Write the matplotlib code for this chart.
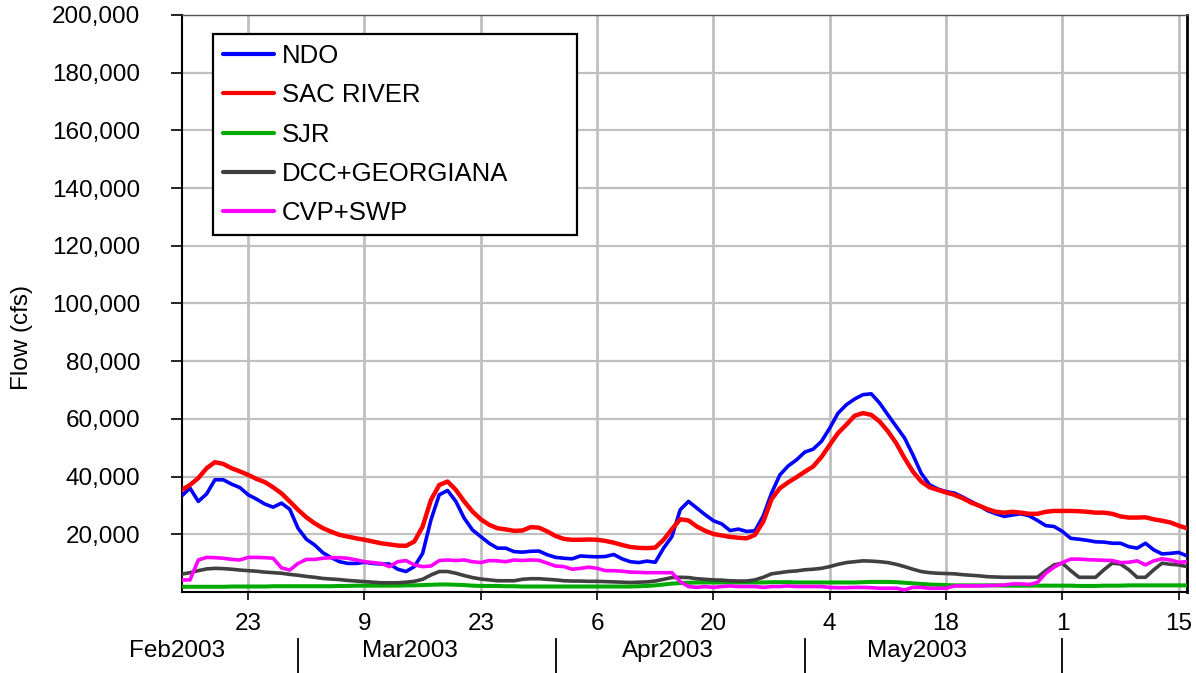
import matplotlib
matplotlib.use("Agg")
import matplotlib.pyplot as plt
import matplotlib.dates as mdates
import matplotlib.transforms as mtransforms
import numpy as np
import pandas as pd

plt.rcParams['font.family'] = ['Liberation Sans', 'DejaVu Sans']

# ---------------- data (thousand cfs, daily from 15 Feb 2003) ----------------
start_date = '2003-02-15'
n_days = 122

ndo = [33.3, 36.0, 31.4, 34.0, 38.9, 38.9, 37.4, 36.2, 33.7, 32.2,
       30.5, 29.4, 30.8, 28.7, 22.1, 18.3, 16.3, 13.6, 11.9, 10.5,
       9.9, 9.9, 10.3, 9.9, 9.7, 9.7, 7.9, 7.1, 8.8, 13.4,
       25.0, 33.7, 35.2, 31.4, 25.6, 21.5, 19.2, 16.9, 15.2, 15.2,
       14.0, 13.8, 14.1, 14.2, 12.9, 12.0, 11.7, 11.5, 12.5, 12.3,
       12.2, 12.3, 13.0, 11.5, 10.5, 10.2, 10.7, 10.3, 15.2, 19.2,
       28.5, 31.4, 29.1, 26.8, 24.7, 23.6, 21.3, 21.8, 21.0, 21.2,
       26.4, 34.3, 40.6, 43.7, 45.8, 48.5, 49.5, 52.2, 56.8, 62.0,
       64.9, 66.9, 68.4, 68.7, 65.5, 61.4, 57.4, 53.4, 47.6, 41.2,
       37.2, 35.7, 34.8, 34.3, 32.9, 31.4, 29.9, 28.2, 27.1, 26.2,
       26.7, 27.1, 26.4, 24.8, 23.0, 22.7, 21.0, 18.6, 18.3, 17.9,
       17.4, 17.3, 16.9, 16.9, 15.7, 15.2, 16.9, 14.6, 13.2, 13.4,
       13.7, 12.5]

sac_river = [35.4, 37.1, 39.5, 42.9, 45.0, 44.4, 42.9, 41.8, 40.6, 39.2,
             38.1, 36.3, 34.2, 31.4, 28.5, 25.9, 23.8, 22.1, 20.9, 19.8,
             19.2, 18.6, 18.1, 17.5, 16.9, 16.5, 16.1, 16.0, 17.5, 22.7,
             31.9, 37.1, 38.3, 35.4, 31.4, 27.9, 25.2, 23.3, 22.1, 21.7,
             21.2, 21.3, 22.5, 22.3, 21.0, 19.4, 18.4, 18.1, 18.1, 18.2,
             18.1, 17.7, 17.1, 16.3, 15.6, 15.3, 15.2, 15.4, 18.1, 21.8,
             25.2, 24.8, 22.7, 21.2, 20.1, 19.6, 19.1, 18.8, 18.6, 19.8,
             24.4, 32.2, 36.0, 38.0, 39.8, 41.7, 43.5, 46.8, 51.0, 55.1,
             58.0, 61.1, 62.0, 61.4, 59.1, 55.7, 51.6, 46.4, 41.8, 38.3,
             36.3, 35.4, 34.5, 33.7, 32.5, 31.0, 29.9, 28.7, 27.8, 27.5,
             27.8, 27.5, 27.1, 27.1, 27.8, 28.1, 28.1, 28.1, 28.0, 27.8,
             27.5, 27.5, 27.1, 26.2, 25.8, 25.8, 25.9, 25.2, 24.7, 24.1,
             23.0, 22.1]

sjr = [1.8, 1.8, 1.8, 1.8, 1.8, 1.8, 1.9, 1.9, 1.9, 1.9,
       1.9, 2.0, 2.0, 2.0, 2.0, 2.0, 2.0, 2.0, 2.0, 2.1,
       2.1, 2.2, 2.2, 2.2, 2.2, 2.2, 2.2, 2.3, 2.3, 2.4,
       2.5, 2.6, 2.6, 2.5, 2.4, 2.2, 2.1, 2.1, 2.1, 2.0,
       2.0, 1.9, 1.9, 1.9, 1.9, 1.9, 1.9, 1.9, 1.9, 1.9,
       1.9, 1.9, 1.9, 1.9, 1.9, 2.0, 2.1, 2.3, 2.6, 2.9,
       3.1, 3.2, 3.3, 3.3, 3.3, 3.3, 3.3, 3.3, 3.3, 3.3,
       3.3, 3.4, 3.4, 3.4, 3.3, 3.3, 3.3, 3.3, 3.3, 3.3,
       3.3, 3.3, 3.4, 3.5, 3.5, 3.5, 3.4, 3.2, 3.0, 2.8,
       2.6, 2.5, 2.4, 2.3, 2.3, 2.3, 2.3, 2.3, 2.3, 2.2,
       2.2, 2.2, 2.2, 2.2, 2.2, 2.2, 2.2, 2.2, 2.1, 2.1,
       2.1, 2.2, 2.2, 2.2, 2.3, 2.3, 2.3, 2.3, 2.3, 2.3,
       2.3, 2.3]

dcc_georgiana = [6.2, 6.7, 7.4, 8.0, 8.2, 8.1, 7.9, 7.6, 7.4, 7.2,
                 6.9, 6.7, 6.5, 6.1, 5.8, 5.4, 5.1, 4.7, 4.5, 4.3,
                 4.0, 3.8, 3.6, 3.4, 3.2, 3.2, 3.2, 3.4, 3.7, 4.4,
                 5.9, 7.1, 7.1, 6.5, 5.7, 5.0, 4.5, 4.2, 3.9, 3.9,
                 3.9, 4.4, 4.6, 4.6, 4.4, 4.2, 3.9, 3.8, 3.8, 3.7,
                 3.7, 3.6, 3.5, 3.4, 3.3, 3.4, 3.5, 3.8, 4.4, 5.0,
                 5.1, 5.0, 4.6, 4.4, 4.2, 4.1, 3.9, 3.8, 3.8, 4.2,
                 5.1, 6.3, 6.7, 7.1, 7.3, 7.7, 7.9, 8.2, 8.8, 9.6,
                 10.2, 10.5, 10.8, 10.7, 10.5, 10.2, 9.6, 8.8, 7.9, 7.1,
                 6.7, 6.5, 6.4, 6.3, 6.0, 5.8, 5.6, 5.3, 5.2, 5.1,
                 5.1, 5.1, 5.1, 5.1, 7.4, 9.4, 10.0, 7.4, 5.1, 5.1,
                 5.1, 7.7, 10.0, 9.7, 7.7, 5.1, 5.1, 7.7, 10.0, 9.6,
                 9.4, 8.8]

cvp_swp = [4.2, 4.2, 11.1, 12.0, 11.9, 11.7, 11.3, 11.1, 12.0, 12.0,
           11.9, 11.7, 8.4, 7.6, 9.9, 11.3, 11.3, 11.7, 11.9, 11.9,
           11.7, 11.1, 10.5, 10.2, 9.9, 8.8, 10.5, 10.9, 9.4, 8.8,
           9.0, 10.9, 11.1, 10.9, 11.1, 10.5, 10.2, 10.9, 10.8, 10.5,
           11.1, 10.9, 11.1, 11.0, 10.0, 9.0, 8.8, 7.9, 8.2, 8.6,
           8.2, 7.4, 7.4, 7.2, 6.9, 6.8, 6.7, 6.7, 6.7, 6.7,
           3.6, 1.9, 1.6, 1.9, 1.6, 1.9, 2.1, 1.9, 1.9, 1.9,
           1.6, 1.9, 1.9, 2.1, 1.9, 1.9, 1.9, 1.9, 1.6, 1.5,
           1.5, 1.6, 1.6, 1.5, 1.3, 1.3, 1.3, 0.7, 1.6, 1.6,
           1.3, 1.3, 1.3, 2.1, 2.1, 2.1, 2.1, 2.2, 2.3, 2.4,
           2.8, 2.8, 2.6, 3.3, 6.5, 8.6, 10.2, 11.4, 11.4, 11.2,
           11.1, 11.0, 10.9, 10.2, 10.3, 10.8, 9.4, 10.8, 11.5, 11.1,
           10.3, 10.5]

series_names = ['NDO', 'SAC RIVER', 'SJR', 'DCC+GEORGIANA', 'CVP+SWP']
series_values = [ndo, sac_river, sjr, dcc_georgiana, cvp_swp]
series_colors = ['#0000FF', '#FF0000', '#00AA00', '#404040', '#FF00FF']
series_widths = [2.6, 3.2, 2.9, 2.6, 2.6]

ytick_values = [20000, 40000, 60000, 80000, 100000, 120000, 140000, 160000, 180000, 200000]
ytick_labels = ['20,000', '40,000', '60,000', '80,000', '100,000', '120,000',
                '140,000', '160,000', '180,000', '200,000']
xtick_dates = ['2003-02-23', '2003-03-09', '2003-03-23', '2003-04-06', '2003-04-20',
               '2003-05-04', '2003-05-18', '2003-06-01', '2003-06-15']
xtick_labels = ['23', '9', '23', '6', '20', '4', '18', '1', '15']
month_labels = ['Feb2003', 'Mar2003', 'Apr2003', 'May2003']
month_starts = ['2003-02-01', '2003-03-01', '2003-04-01', '2003-05-01']
month_separators = ['2003-03-01', '2003-04-01', '2003-05-01', '2003-06-01']
y_label = 'Flow (cfs)'

# ---------------- figure ----------------
W, H = 1196, 673
fig = plt.figure(figsize=(W / 100, H / 100), dpi=100)
ax_left, ax_right, ax_top, ax_bottom = 181.7, 1187, 15, 592
ax = fig.add_axes([ax_left / W, 1 - ax_bottom / H, (ax_right - ax_left) / W, (ax_bottom - ax_top) / H])

dates = pd.date_range(start_date, periods=n_days, freq='D')
for name, vals, col, lw in zip(series_names, series_values, series_colors, series_widths):
    ax.plot(dates, np.array(vals) * 1000, color=col, lw=lw, label=name,
            solid_joinstyle='round', solid_capstyle='round', zorder=3)

ax.set_xlim(dates[0], dates[-1])
ax.set_ylim(0, 200000)

ax.set_yticks(ytick_values)
ax.set_yticklabels(ytick_labels)
ax.set_xticks(pd.to_datetime(xtick_dates))
ax.set_xticklabels(xtick_labels)

ax.tick_params(axis='y', direction='out', length=8, width=1.2, pad=22, labelsize=17.5, colors='black')
ax.tick_params(axis='x', direction='out', length=6, width=1.2, pad=9, labelsize=17.5, colors='black')

ax.grid(True, axis='x', color='#C0C0C0', lw=2.0, zorder=0)
ax.grid(True, axis='y', color='#C0C0C0', lw=1.6, zorder=0)
ax.set_axisbelow(True)

for s in ['left', 'bottom']:
    ax.spines[s].set_color('black')
    ax.spines[s].set_linewidth(1.5)
ax.spines['right'].set_color('black')
ax.spines['right'].set_linewidth(2.0)
ax.spines['top'].set_color('#555555')
ax.spines['top'].set_linewidth(1.0)

# month labels and separators
trans = mtransforms.blended_transform_factory(ax.transData, ax.transAxes)
for lab, ms in zip(month_labels, month_starts):
    xpos = mdates.date2num(pd.Timestamp(ms)) + 13.5
    ax.text(xpos, (ax_bottom - 651) / (ax_bottom - ax_top), lab, transform=trans,
            ha='center', va='center', fontsize=17.5, clip_on=False)
for sep in month_separators:
    xs = mdates.date2num(pd.Timestamp(sep))
    ax.plot([xs, xs], [(ax_bottom - 639) / (ax_bottom - ax_top), (ax_bottom - 673) / (ax_bottom - ax_top)],
            transform=trans, color='black', lw=1.3, clip_on=False)

fig.text(22 / W, 1 - 337 / H, y_label, rotation=90, ha='center', va='center', fontsize=17.5)

# legend
leg_x0, leg_x1, leg_y0, leg_y1 = 213, 577, 34, 233
leg = ax.legend(loc='upper left',
                bbox_to_anchor=(leg_x0 / W, 1 - leg_y1 / H, (leg_x1 - leg_x0) / W, (leg_y1 - leg_y0) / H),
                bbox_transform=fig.transFigure, mode='expand',
                fontsize=18.5, handlelength=2.0, handletextpad=0.3, labelspacing=0.6,
                borderpad=0.38, borderaxespad=0, frameon=True, fancybox=False,
                framealpha=1)
leg.get_frame().set_edgecolor('black')
leg.get_frame().set_linewidth(1.6)
for lh in leg.get_lines():
    lh.set_linewidth(3.0)

fig.savefig('out.png', dpi=100)
